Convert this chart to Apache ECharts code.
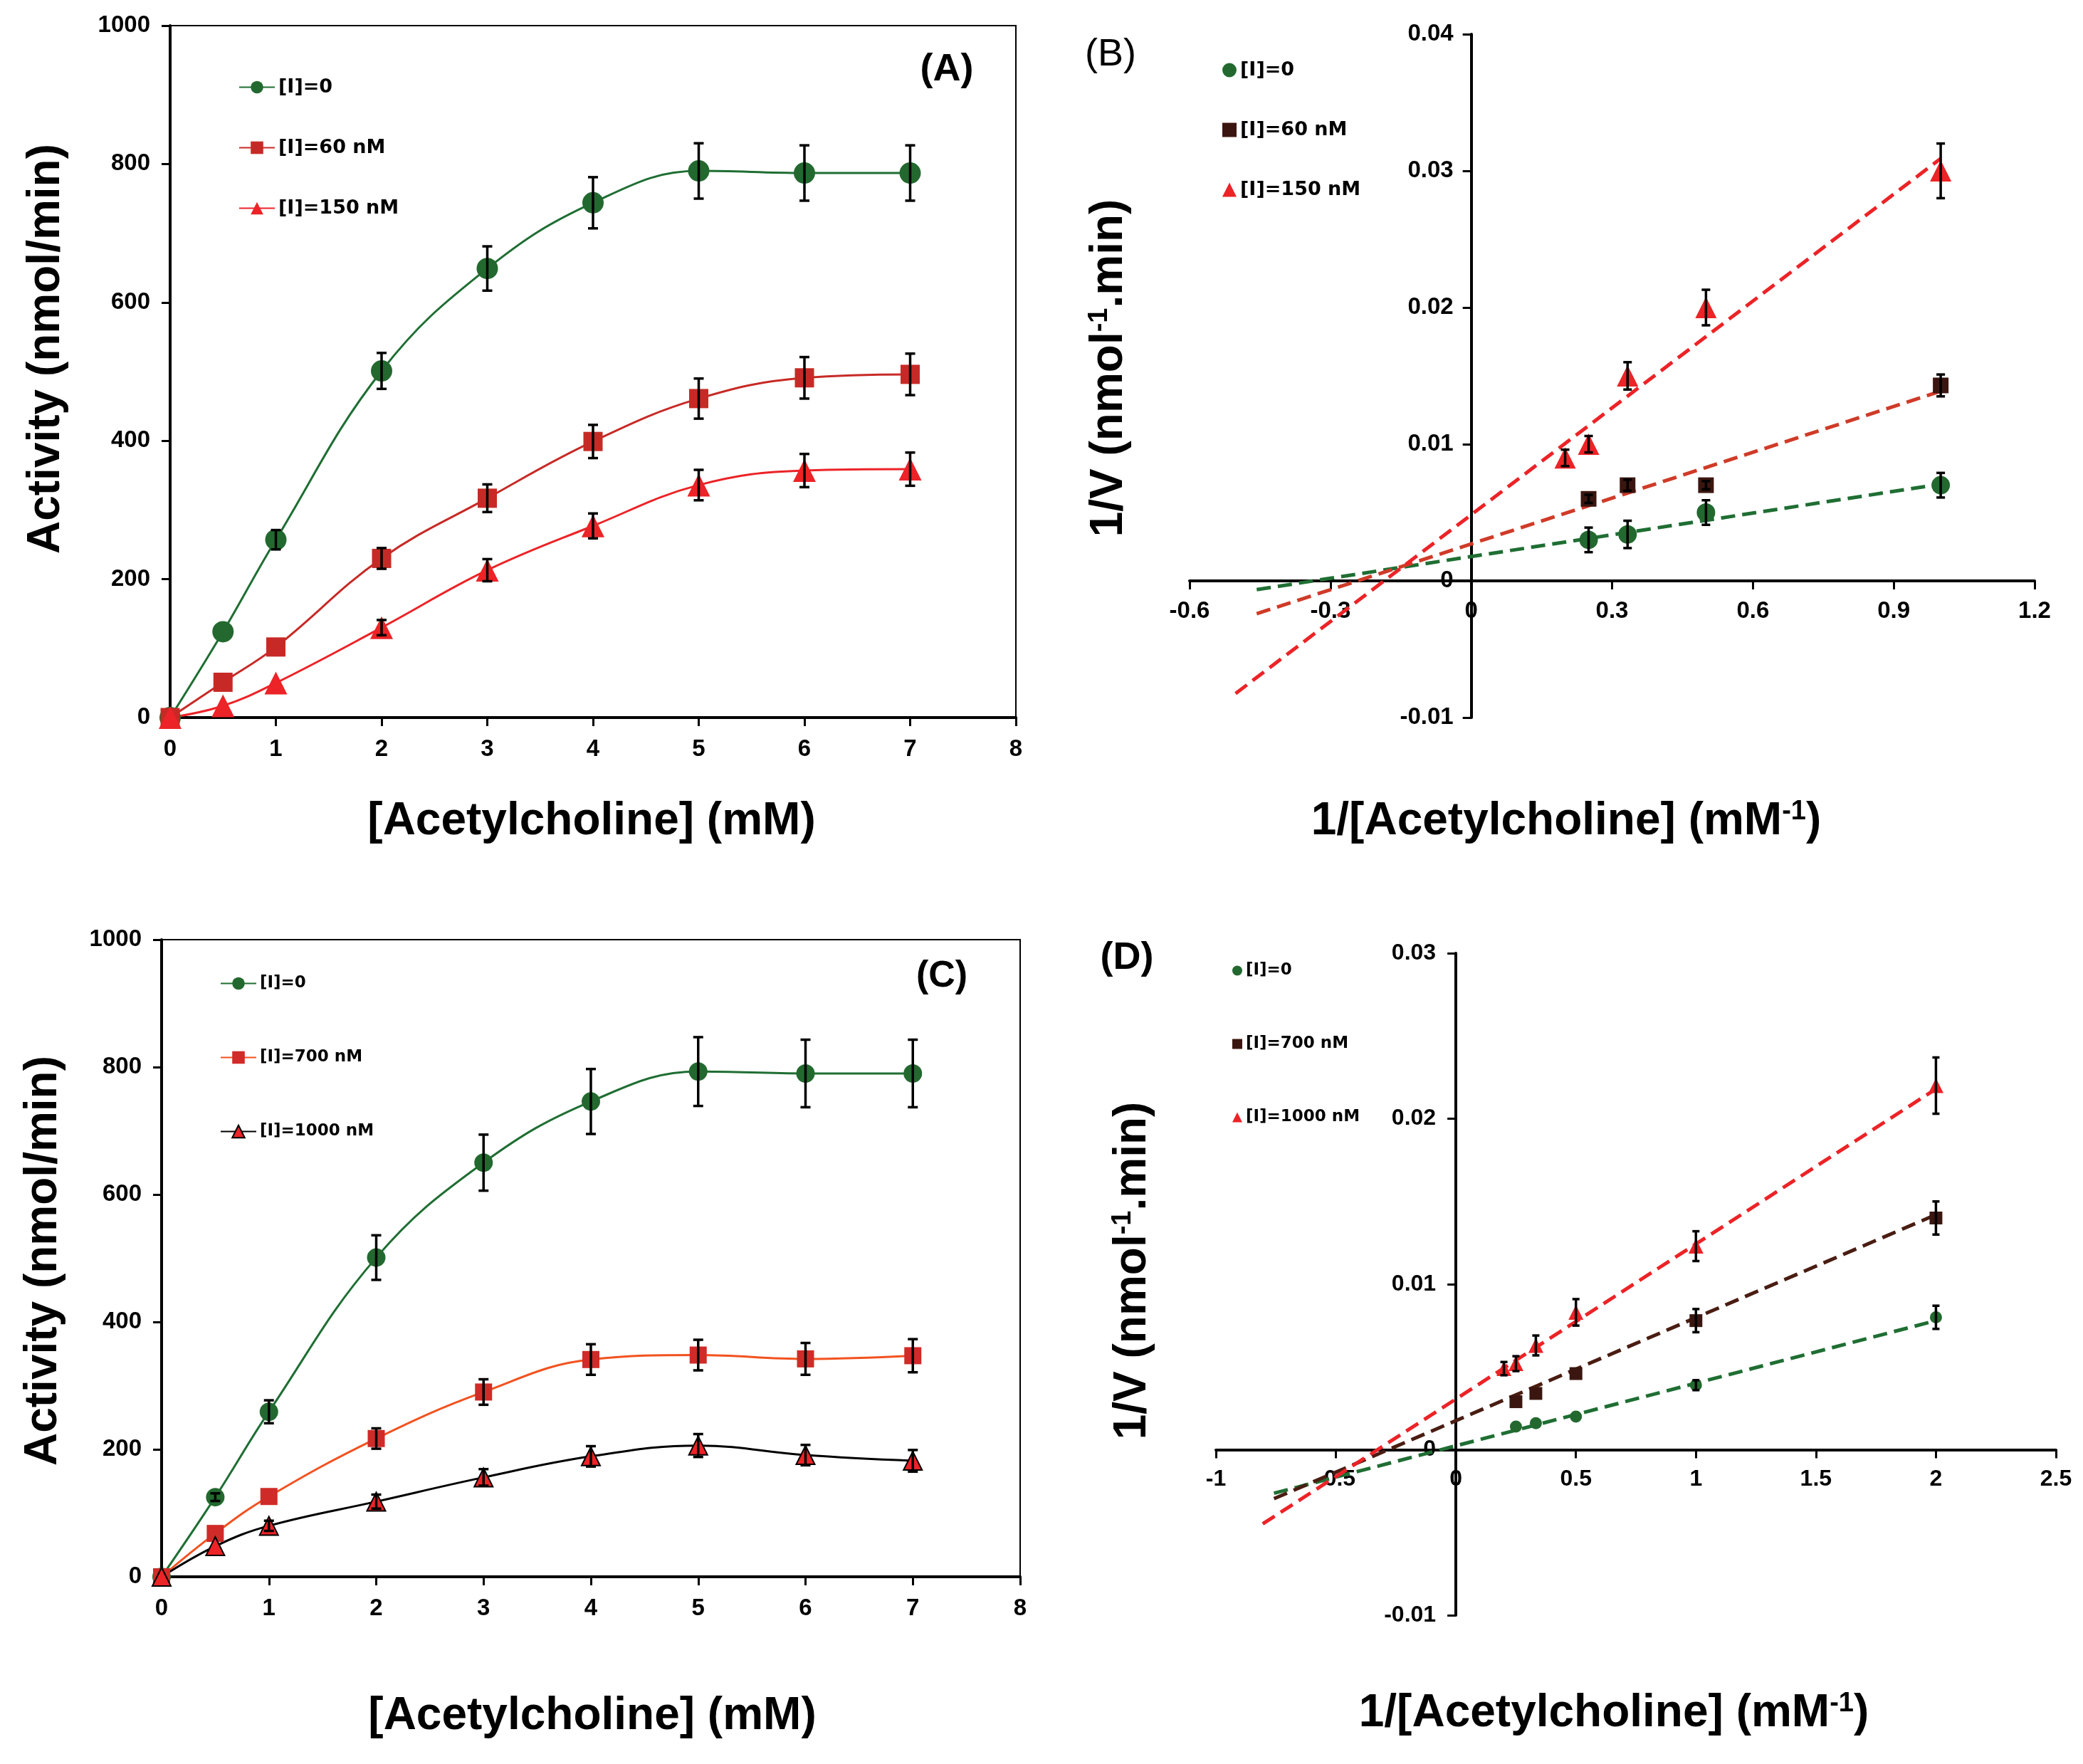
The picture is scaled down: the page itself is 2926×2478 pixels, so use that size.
<!DOCTYPE html>
<html>
<head>
<meta charset="utf-8">
<script src="https://cdn.jsdelivr.net/npm/echarts@6/dist/echarts.min.js"></script>
<style>
html,body{margin:0;padding:0;background:#fff;}
.p{position:absolute;width:1463px;height:1239px;}
</style>
</head>
<body>
<div id="A" class="p" style="left:0;top:0"></div>
<div id="B" class="p" style="left:1463px;top:0"></div>
<div id="C" class="p" style="left:0;top:1239px"></div>
<div id="D" class="p" style="left:1463px;top:1239px"></div>
<script>
const FT = "'Liberation Sans', Arial, Helvetica, sans-serif";
const FL = "'DejaVu Sans', Verdana, sans-serif";

// ---------- Panel A : Michaelis-Menten, [I]=0 / 60 / 150 nM ----------
const aX = [0, 0.5, 1, 2, 3, 4, 5, 6, 7];
const aNames = ['[I]=0', '[I]=60 nM', '[I]=150 nM'];
const aY0 = [0, 124, 257, 501, 649, 744, 790, 787, 787];
const aE0 = [0, 0, 14, 26, 32, 37, 40, 40, 40];
const aY60 = [0, 51, 102, 230, 317, 399, 461, 491, 496];
const aE60 = [0, 0, 0, 15, 20, 24, 29, 30, 30];
const aY150 = [0, 17, 50, 130, 213, 277, 336, 357, 359];
const aE150 = [0, 0, 0, 11, 16, 18, 22, 24, 24];

// ---------- Panel B : Lineweaver-Burk for A ----------
const bNames = ['[I]=0', '[I]=60 nM', '[I]=150 nM'];
const bX0 = [0.25, 0.333, 0.5, 1];
const bY0 = [0.003, 0.0034, 0.005, 0.007];
const bE0 = [0.0009, 0.001, 0.0009, 0.0009];
const bX60 = [0.25, 0.333, 0.5, 1];
const bY60 = [0.006, 0.007, 0.007, 0.0143];
const bE60 = [0.0003, 0.0004, 0.0003, 0.0008];
const bX150 = [0.2, 0.25, 0.333, 0.5, 1];
const bY150 = [0.009, 0.01, 0.015, 0.02, 0.03];
const bE150 = [0.0006, 0.0006, 0.001, 0.0013, 0.002];
const bFitX0 = [-0.457, 1.0],  bFitY0 = [-0.00064, 0.00708];
const bFitX60 = [-0.457, 1.0], bFitY60 = [-0.0024, 0.01388];
const bFitX150 = [-0.502, 1.0], bFitY150 = [-0.00824, 0.0309];

// ---------- Panel C : Michaelis-Menten, [I]=0 / 700 / 1000 nM ----------
const cX = [0, 0.5, 1, 2, 3, 4, 5, 6, 7];
const cNames = ['[I]=0', '[I]=700 nM', '[I]=1000 nM'];
const cY0 = [0, 125, 259, 501, 650, 746, 793, 790, 790];
const cE0 = [0, 6, 18, 35, 44, 51, 54, 53, 53];
const cY700 = [0, 68, 126, 217, 290, 341, 348, 342, 347];
const cE700 = [0, 0, 0, 16, 20, 24, 24, 25, 26];
const cY1000 = [0, 48, 80, 118, 156, 189, 206, 191, 182];
const cE1000 = [0, 0, 8, 11, 13, 16, 18, 16, 17];

// ---------- Panel D : Lineweaver-Burk for C ----------
const dNames = ['[I]=0', '[I]=700 nM', '[I]=1000 nM'];
const dX0 = [0.25, 0.333, 0.5, 1, 2];
const dY0 = [0.0014, 0.0016, 0.002, 0.0039, 0.008];
const dE0 = [0, 0, 0, 0.0003, 0.0007];
const dX700 = [0.25, 0.333, 0.5, 1, 2];
const dY700 = [0.0029, 0.0034, 0.0046, 0.0078, 0.014];
const dE700 = [0, 0, 0, 0.0007, 0.001];
const dX1000 = [0.2, 0.25, 0.333, 0.5, 1, 2];
const dY1000 = [0.0049, 0.0052, 0.0063, 0.0083, 0.0123, 0.022];
const dE1000 = [0.0004, 0.00045, 0.0006, 0.0008, 0.0009, 0.0017];
const dFitX0 = [-0.758, 2],   dFitY0 = [-0.00263, 0.0078];
const dFitX700 = [-0.758, 2], dFitY700 = [-0.00296, 0.0142];
const dFitX1000 = [-0.805, 2], dFitY1000 = [-0.00448, 0.0218];

// ---------- axis ranges [min, max, interval] ----------
const abXRange = [0, 8, 1], abYRange = [0, 1000, 200];
const bXRange = [-0.6, 1.2, 0.3], bYRange = [-0.01, 0.04, 0.01];
const dXRange = [-1, 2.5, 0.5], dYRange = [-0.01, 0.03, 0.01];

// ---------- helpers ----------
function pairs(xs, ys) { return xs.map((x, i) => [x, ys[i]]); }
function errRender(cap) {
  return function (params, api) {
    const x = api.value(0), y = api.value(1), e = api.value(2);
    if (!e) return null;
    const p1 = api.coord([x, y + e]), p2 = api.coord([x, y - e]);
    const st = { stroke: '#000', lineWidth: 3.5 };
    return { type: 'group', children: [
      { type: 'line', shape: { x1: p1[0], y1: p1[1], x2: p2[0], y2: p2[1] }, style: st },
      { type: 'line', shape: { x1: p1[0] - cap, y1: p1[1], x2: p1[0] + cap, y2: p1[1] }, style: st },
      { type: 'line', shape: { x1: p2[0] - cap, y1: p2[1], x2: p2[0] + cap, y2: p2[1] }, style: st }
    ]};
  };
}
function errSeries(xs, ys, es, cap) {
  return { type: 'custom', silent: true, z: 10, renderItem: errRender(cap),
    encode: { x: 0, y: 1 }, data: xs.map((x, i) => [x, ys[i], es[i]]) };
}
// offset: moves the axis line inside the grid (used to cross the axes at zero)
function axis(range, fs, margin, offset, fmt) {
  return { type: 'value', min: range[0], max: range[1], interval: range[2], offset: offset || 0,
    axisLine: { onZero: false, lineStyle: { color: '#000', width: 4 } },
    axisTick: { length: 12, lineStyle: { color: '#000', width: 3 } },
    axisLabel: { margin: margin, fontSize: fs, fontFamily: FT, fontWeight: 'bold', color: '#000',
      formatter: fmt || (v => String(v)) },
    splitLine: { show: false } };
}
// distance (px) from the grid's low edge to the value 0 of the other axis
function zeroShift(range, size) { return -((0 - range[0]) / (range[1] - range[0])) * size; }
const r2 = v => String(Math.round(v * 100) / 100);
const r3 = v => String(Math.round(v * 1000) / 1000);
function txt(x, y, text, size, weight, rot) {
  return { type: 'text', x: x, y: y, rotation: rot ? Math.PI / 2 : 0,
    style: { text: text, fontSize: size, fontWeight: weight, fontFamily: FT, fill: '#000',
      align: 'center', verticalAlign: 'middle',
      rich: {
        n: { fontSize: size, fontWeight: weight, fontFamily: FT, fill: '#000' },
        s: { fontSize: Math.round(size * 0.6), fontWeight: weight, fontFamily: FT, fill: '#000', verticalAlign: 'top' }
      } } };
}
function lineSeries(name, xs, ys, color, lineColor, symbol, size, border) {
  return { type: 'line', name: name, data: pairs(xs, ys), smooth: 0.4, symbol: symbol, symbolSize: size,
    z: 3, lineStyle: { color: lineColor, width: 3 },
    itemStyle: { color: color, borderColor: border || color, borderWidth: border ? 2 : 0 } };
}
function scatterSeries(name, xs, ys, color, symbol, size) {
  return { type: 'scatter', name: name, data: pairs(xs, ys), symbol: symbol, symbolSize: size, z: 4,
    itemStyle: { color: color, opacity: 1 } };
}
function fitSeries(xs, ys, color) {
  return { type: 'line', data: pairs(xs, ys), symbol: 'none', silent: true, z: 2,
    lineStyle: { color: color, width: 5, type: [20, 10] } };
}
const GREEN = '#23692f', GREENL = '#1f6e33', RED60 = '#c72a26', RED = '#ec2327',
      ORANGE = '#f2521f', SQR = '#d02b28', BROWN = '#3b1610', BROWNL = '#4a1d12', REDB = '#cf3b28';
const legText = fs => ({ fontSize: fs, fontFamily: FL, fontWeight: 'bold', color: '#000' });

// ---------- Panel A ----------
const optA = {
  animation: false,
  grid: { left: 239, top: 36, width: 1188, height: 972, show: true, borderColor: '#000', borderWidth: 2 },
  xAxis: axis(abXRange, 33, 28),
  yAxis: axis(abYRange, 33, 28),
  legend: { orient: 'vertical', left: 330, top: 104, itemWidth: 50, itemHeight: 22, itemGap: 58,
    textStyle: legText(27), data: aNames },
  graphic: [
    txt(65, 490, 'Activity (nmol/min)', 64, 'bold', true),
    txt(831, 1154, '[Acetylcholine] (mM)', 64, 'bold', false),
    txt(1330, 98, '(A)', 54, 'bold', false)
  ],
  series: [
    lineSeries(aNames[0], aX, aY0, GREEN, GREENL, 'circle', 30),
    lineSeries(aNames[1], aX, aY60, RED60, RED60, 'rect', 27),
    lineSeries(aNames[2], aX, aY150, RED, RED, 'triangle', 32),
    errSeries(aX, aY0, aE0, 7), errSeries(aX, aY60, aE60, 7), errSeries(aX, aY150, aE150, 7)
  ]
};

// ---------- Panel B ----------
const bGrid = { left: 208, top: 48, width: 1187, height: 960 };
const optB = {
  animation: false,
  grid: bGrid,
  xAxis: axis(bXRange, 33, 26, zeroShift(bYRange, bGrid.height), r2),
  yAxis: axis(bYRange, 33, 25, zeroShift(bXRange, bGrid.width), r3),
  legend: { orient: 'vertical', left: 249, top: 80, itemWidth: 20, itemHeight: 20, itemGap: 57,
    textStyle: legText(27), data: bNames },
  graphic: [
    txt(95, 517, '1/V (nmol{s|-1}.min)', 64, 'bold', true),
    txt(737, 1154, '1/[Acetylcholine] (mM{s|-1})', 64, 'bold', false),
    txt(97, 77, '(B)', 54, 'normal', false)
  ],
  series: [
    fitSeries(bFitX0, bFitY0, GREENL), fitSeries(bFitX60, bFitY60, REDB), fitSeries(bFitX150, bFitY150, RED),
    scatterSeries(bNames[0], bX0, bY0, GREEN, 'circle', 26),
    scatterSeries(bNames[1], bX60, bY60, BROWN, 'rect', 22),
    scatterSeries(bNames[2], bX150, bY150, RED, 'triangle', 30),
    errSeries(bX0, bY0, bE0, 6), errSeries(bX60, bY60, bE60, 6), errSeries(bX150, bY150, bE150, 6)
  ]
};

// ---------- Panel C ----------
const optC = {
  animation: false,
  grid: { left: 227, top: 81, width: 1206, height: 895, show: true, borderColor: '#000', borderWidth: 2 },
  xAxis: axis(abXRange, 33, 28),
  yAxis: axis(abYRange, 33, 28),
  legend: { orient: 'vertical', left: 304, top: 126, itemWidth: 50, itemHeight: 22, itemGap: 81,
    textStyle: legText(23), data: cNames },
  graphic: [
    txt(61, 532, 'Activity (nmol/min)', 64, 'bold', true),
    txt(832, 1172, '[Acetylcholine] (mM)', 64, 'bold', false),
    txt(1323, 133, '(C)', 52, 'bold', false)
  ],
  series: [
    lineSeries(cNames[0], cX, cY0, GREEN, GREENL, 'circle', 26),
    lineSeries(cNames[1], cX, cY700, SQR, ORANGE, 'rect', 24),
    lineSeries(cNames[2], cX, cY1000, RED, '#000', 'triangle', 26, '#000'),
    errSeries(cX, cY0, cE0, 7), errSeries(cX, cY700, cE700, 7), errSeries(cX, cY1000, cE1000, 7)
  ]
};

// ---------- Panel D ----------
const dGrid = { left: 245, top: 100, width: 1180, height: 930 };
const optD = {
  animation: false,
  grid: dGrid,
  xAxis: axis(dXRange, 32, 26, zeroShift(dYRange, dGrid.height), r2),
  yAxis: axis(dYRange, 32, 28, zeroShift(dXRange, dGrid.width), r3),
  legend: { orient: 'vertical', left: 263, top: 108, itemWidth: 14, itemHeight: 14, itemGap: 80,
    textStyle: legText(23), data: dNames },
  graphic: [
    txt(128, 546, '1/V (nmol{s|-1}.min)', 64, 'bold', true),
    txt(804, 1168, '1/[Acetylcholine] (mM{s|-1})', 64, 'bold', false),
    txt(120, 107, '(D)', 54, 'bold', false)
  ],
  series: [
    fitSeries(dFitX0, dFitY0, GREENL), fitSeries(dFitX700, dFitY700, BROWNL), fitSeries(dFitX1000, dFitY1000, RED),
    scatterSeries(dNames[0], dX0, dY0, GREEN, 'circle', 17),
    scatterSeries(dNames[1], dX700, dY700, BROWN, 'rect', 18),
    scatterSeries(dNames[2], dX1000, dY1000, RED, 'triangle', 21),
    errSeries(dX0, dY0, dE0, 5), errSeries(dX700, dY700, dE700, 5), errSeries(dX1000, dY1000, dE1000, 5)
  ]
};

[['A', optA], ['B', optB], ['C', optC], ['D', optD]].forEach(([id, opt]) => {
  echarts.init(document.getElementById(id)).setOption(opt);
});
</script>
</body>
</html>
